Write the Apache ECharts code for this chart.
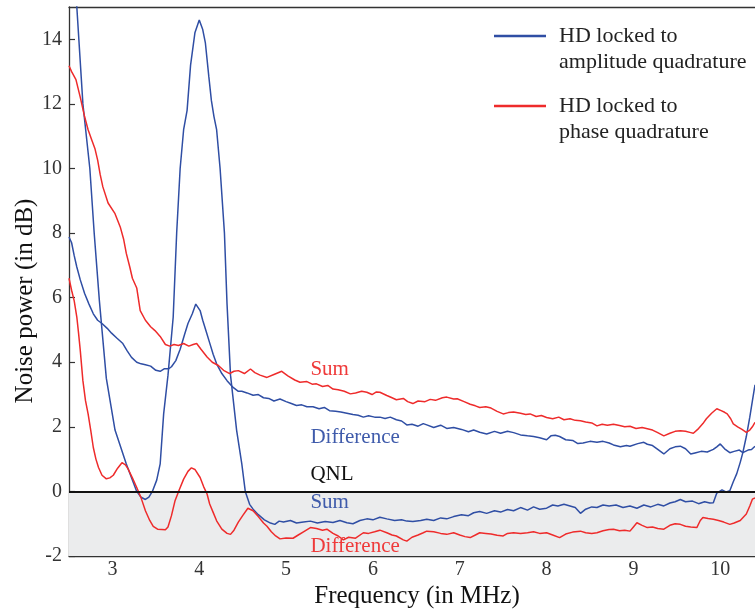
<!DOCTYPE html>
<html>
<head>
<meta charset="utf-8">
<script src="https://cdn.jsdelivr.net/npm/echarts@6/dist/echarts.min.js"></script>
<style>
html,body{margin:0;padding:0;background:#fff;}
#c{width:755px;height:612px;}
</style>
</head>
<body>
<div id="c"></div>
<script>
// ---- Data ----
const xTicks = [3, 4, 5, 6, 7, 8, 9, 10];
const yTicks = [-2, 0, 2, 4, 6, 8, 10, 12, 14];

// HD locked to amplitude quadrature — Sum (big blue curve)
const ampSumX = [2.50,2.55,2.59,2.66,2.74,2.79,2.85,2.93,3.03,3.16,3.28,3.33,3.38,3.42,3.46,3.51,3.55,3.59,3.64,3.70,3.74,3.78,3.82,3.86,3.90,3.95,4.00,4.04,4.07,4.11,4.14,4.17,4.20,4.24,4.29,4.32,4.36,4.43,4.49,4.53,4.58,4.62,4.68,4.75,4.82,4.87,4.92,4.97,5.05,5.12,5.20,5.28,5.36,5.45,5.54,5.62,5.70,5.77,5.85,5.93,6.00,6.08,6.16,6.25,6.33,6.39,6.46,6.55,6.62,6.70,6.78,6.85,6.93,7.02,7.10,7.16,7.23,7.31,7.40,7.47,7.55,7.62,7.70,7.78,7.85,7.92,8.00,8.07,8.13,8.20,8.27,8.33,8.39,8.45,8.52,8.58,8.65,8.72,8.80,8.88,8.96,9.04,9.12,9.20,9.28,9.35,9.42,9.48,9.54,9.60,9.68,9.75,9.82,9.88,9.92,9.96,10.02,10.07,10.11,10.15,10.19,10.23,10.26,10.30,10.34,10.37,10.40];
const ampSumY = [18.8,16.8,15.0,12.0,10.0,8.0,5.9,3.5,1.9,0.85,0.0,-0.18,-0.25,-0.18,0.0,0.35,0.85,2.4,3.6,5.4,8.0,10.0,11.2,11.8,13.2,14.2,14.6,14.3,13.9,12.85,12.1,11.6,11.2,10.0,8.0,5.8,3.6,1.9,0.85,0.0,-0.4,-0.55,-0.72,-0.88,-0.98,-1.02,-0.92,-0.95,-0.9,-0.98,-0.95,-0.92,-0.98,-0.93,-0.96,-0.9,-0.97,-1.0,-0.9,-0.85,-0.88,-0.8,-0.85,-0.9,-0.88,-0.92,-0.93,-0.9,-0.86,-0.9,-0.82,-0.85,-0.78,-0.72,-0.75,-0.66,-0.62,-0.68,-0.6,-0.64,-0.56,-0.6,-0.5,-0.58,-0.48,-0.55,-0.52,-0.42,-0.45,-0.4,-0.45,-0.5,-0.68,-0.55,-0.48,-0.5,-0.42,-0.45,-0.42,-0.5,-0.45,-0.52,-0.42,-0.48,-0.4,-0.45,-0.36,-0.32,-0.25,-0.32,-0.3,-0.38,-0.32,-0.36,-0.35,-0.05,0.05,-0.02,0.02,0.3,0.55,0.9,1.2,1.7,2.3,2.8,3.3];

// HD locked to amplitude quadrature — Difference (blue)
const ampDiffX = [2.50,2.53,2.56,2.59,2.63,2.68,2.73,2.78,2.83,2.88,2.94,2.99,3.05,3.12,3.17,3.22,3.28,3.33,3.38,3.44,3.50,3.55,3.60,3.65,3.68,3.73,3.78,3.83,3.87,3.92,3.96,3.98,4.01,4.04,4.08,4.12,4.16,4.20,4.26,4.32,4.39,4.45,4.49,4.55,4.62,4.68,4.74,4.80,4.86,4.93,5.00,5.06,5.12,5.18,5.24,5.31,5.38,5.44,5.50,5.57,5.63,5.70,5.77,5.83,5.89,5.95,6.02,6.08,6.14,6.20,6.27,6.33,6.39,6.45,6.52,6.58,6.62,6.70,6.78,6.85,6.93,7.02,7.10,7.16,7.23,7.31,7.40,7.47,7.55,7.62,7.70,7.78,7.85,7.92,8.00,8.05,8.10,8.15,8.22,8.30,8.36,8.42,8.50,8.58,8.65,8.72,8.77,8.85,8.92,8.96,9.05,9.12,9.16,9.22,9.28,9.35,9.42,9.48,9.54,9.60,9.66,9.72,9.78,9.85,9.92,9.96,10.00,10.05,10.11,10.16,10.22,10.26,10.32,10.36,10.40];
const ampDiffY = [7.88,7.7,7.3,6.95,6.55,6.13,5.8,5.5,5.3,5.2,5.05,4.9,4.75,4.58,4.35,4.15,4.0,3.95,3.92,3.88,3.75,3.72,3.8,3.8,3.86,4.05,4.4,4.85,5.2,5.5,5.8,5.82,5.6,5.3,4.95,4.6,4.25,3.95,3.65,3.43,3.22,3.1,3.1,3.05,2.98,3.0,2.9,2.88,2.8,2.86,2.78,2.72,2.66,2.68,2.62,2.62,2.56,2.6,2.5,2.48,2.46,2.42,2.38,2.36,2.3,2.34,2.3,2.3,2.26,2.3,2.22,2.18,2.06,2.08,2.02,2.1,2.06,1.98,2.05,1.95,1.98,1.92,1.85,1.9,1.83,1.78,1.86,1.8,1.86,1.82,1.75,1.72,1.7,1.66,1.6,1.72,1.74,1.7,1.6,1.58,1.48,1.5,1.55,1.52,1.55,1.5,1.44,1.38,1.42,1.4,1.48,1.52,1.46,1.42,1.3,1.16,1.32,1.38,1.4,1.32,1.16,1.2,1.24,1.22,1.3,1.38,1.47,1.32,1.2,1.24,1.28,1.2,1.28,1.3,1.4];

// HD locked to phase quadrature — Sum (red)
const phSumX = [2.50,2.53,2.58,2.63,2.68,2.72,2.76,2.80,2.83,2.86,2.89,2.95,3.03,3.09,3.13,3.16,3.20,3.23,3.28,3.32,3.38,3.44,3.49,3.55,3.61,3.66,3.71,3.76,3.82,3.88,3.93,3.97,4.02,4.09,4.15,4.22,4.28,4.35,4.40,4.45,4.52,4.59,4.64,4.70,4.78,4.86,4.95,5.02,5.10,5.16,5.24,5.30,5.35,5.42,5.48,5.54,5.60,5.67,5.74,5.80,5.87,5.93,5.99,6.04,6.08,6.16,6.22,6.27,6.35,6.40,6.46,6.52,6.60,6.66,6.72,6.80,6.85,6.93,6.97,7.05,7.12,7.18,7.23,7.30,7.36,7.43,7.50,7.56,7.62,7.70,7.76,7.81,7.88,7.94,8.00,8.07,8.14,8.20,8.27,8.33,8.39,8.45,8.52,8.58,8.64,8.70,8.77,8.84,8.90,8.96,9.03,9.10,9.16,9.22,9.28,9.35,9.42,9.48,9.54,9.60,9.66,9.69,9.74,9.80,9.84,9.90,9.96,10.01,10.05,10.08,10.12,10.15,10.20,10.25,10.30,10.34,10.37,10.40];
const phSumY = [13.18,13.0,12.75,12.2,11.6,11.2,10.9,10.6,10.26,9.8,9.43,8.93,8.6,8.19,7.8,7.37,6.95,6.6,6.3,5.6,5.3,5.1,4.98,4.8,4.55,4.5,4.55,4.52,4.58,4.5,4.55,4.58,4.4,4.16,4.0,3.9,3.75,3.65,3.72,3.74,3.65,3.79,3.68,3.6,3.53,3.62,3.72,3.58,3.45,3.38,3.4,3.32,3.33,3.25,3.28,3.17,3.15,3.1,3.02,3.05,3.1,3.07,3.0,3.08,3.07,2.97,2.9,2.84,2.88,2.78,2.72,2.8,2.78,2.85,2.82,2.9,2.92,2.86,2.87,2.78,2.7,2.65,2.6,2.62,2.58,2.48,2.4,2.44,2.46,2.42,2.38,2.4,2.32,2.35,2.29,2.25,2.3,2.22,2.25,2.2,2.19,2.15,2.12,2.03,2.08,2.05,2.08,2.04,2.0,2.02,1.95,1.98,1.94,1.9,1.82,1.72,1.8,1.86,1.88,1.86,1.82,1.8,1.92,2.1,2.25,2.42,2.56,2.5,2.45,2.4,2.25,2.09,2.0,1.92,1.83,1.9,2.0,2.14];

// HD locked to phase quadrature — Difference (red)
const phDiffX = [2.50,2.53,2.56,2.59,2.61,2.63,2.66,2.69,2.72,2.75,2.78,2.81,2.84,2.88,2.93,2.97,3.01,3.06,3.11,3.15,3.18,3.23,3.28,3.33,3.38,3.43,3.47,3.52,3.57,3.61,3.64,3.68,3.72,3.77,3.82,3.87,3.91,3.95,4.01,4.05,4.09,4.12,4.16,4.20,4.26,4.32,4.36,4.40,4.45,4.50,4.56,4.62,4.68,4.74,4.78,4.83,4.88,4.93,5.00,5.08,5.14,5.20,5.28,5.35,5.42,5.47,5.54,5.60,5.66,5.72,5.80,5.89,5.95,6.02,6.08,6.16,6.22,6.27,6.35,6.39,6.45,6.52,6.58,6.62,6.70,6.78,6.85,6.93,7.00,7.06,7.12,7.18,7.23,7.30,7.36,7.43,7.50,7.55,7.62,7.70,7.78,7.85,7.92,8.00,8.07,8.15,8.22,8.30,8.39,8.45,8.52,8.58,8.65,8.72,8.77,8.84,8.90,8.96,9.00,9.04,9.10,9.16,9.22,9.28,9.35,9.42,9.48,9.54,9.60,9.66,9.73,9.77,9.80,9.86,9.92,9.98,10.04,10.11,10.16,10.23,10.30,10.34,10.37,10.40];
const phDiffY = [6.6,6.23,5.9,5.4,4.9,4.36,3.43,2.81,2.4,1.9,1.36,1.0,0.74,0.5,0.39,0.42,0.5,0.72,0.89,0.82,0.7,0.42,0.12,-0.2,-0.6,-0.9,-1.08,-1.17,-1.18,-1.19,-1.1,-0.75,-0.3,0.05,0.38,0.62,0.73,0.68,0.43,0.15,-0.08,-0.39,-0.65,-0.91,-1.17,-1.3,-1.33,-1.2,-0.95,-0.75,-0.52,-0.6,-0.78,-0.98,-1.08,-1.25,-1.38,-1.47,-1.44,-1.45,-1.35,-1.25,-1.12,-1.15,-1.2,-1.17,-1.3,-1.38,-1.5,-1.42,-1.45,-1.28,-1.3,-1.25,-1.2,-1.28,-1.35,-1.38,-1.5,-1.54,-1.42,-1.35,-1.28,-1.23,-1.25,-1.3,-1.33,-1.28,-1.35,-1.4,-1.43,-1.35,-1.28,-1.3,-1.32,-1.36,-1.38,-1.3,-1.28,-1.3,-1.28,-1.25,-1.3,-1.28,-1.35,-1.43,-1.32,-1.26,-1.23,-1.28,-1.3,-1.28,-1.22,-1.18,-1.17,-1.22,-1.2,-1.23,-1.1,-0.97,-1.05,-1.12,-1.1,-1.15,-1.17,-1.05,-1.0,-1.02,-1.08,-1.1,-1.12,-0.9,-0.81,-0.84,-0.86,-0.9,-0.95,-1.02,-0.98,-0.9,-0.7,-0.45,-0.24,-0.2];

// In-plot annotations (data coordinates of the text's left / vertical middle)
const annText = ['Sum', 'Difference', 'QNL', 'Sum', 'Difference'];
const annX = [5.28, 5.28, 5.28, 5.28, 5.28];
const annY = [3.77, 1.66, 0.53, -0.33, -1.72];
const annKind = ['red', 'blue', 'black', 'blue', 'red'];

const legendLabels = [['HD locked to', 'amplitude quadrature'], ['HD locked to', 'phase quadrature']];
const xTitle = 'Frequency (in MHz)';
const yTitle = 'Noise power (in dB)';

// ---- Styles ----
const BLUE = '#2f4ea4';
const RED = '#ee2b2b';
const TXT = { blue: '#3f5bab', red: '#ef3a3a', black: '#111' };
const SERIF = '"Liberation Serif", "DejaVu Serif", serif';
const AXIS = '#333';

const pairs = (xs, ys) => xs.map((v, i) => [v, ys[i]]);

const chart = echarts.init(document.getElementById('c'), null, { renderer: 'canvas' });

function lineSeries(name, xs, ys, color) {
  return {
    type: 'line', name: name, data: pairs(xs, ys),
    showSymbol: false, symbol: 'none', clip: true, z: 3,
    lineStyle: { color: color, width: 1.5 }, itemStyle: { color: color },
    animation: false
  };
}

chart.setOption({
  animation: false,
  grid: { left: 69, right: 0, top: 7, bottom: 56, containLabel: false, outerBoundsMode: 'none' },
  xAxis: [{
    type: 'value', min: 2.5, max: 10.4, position: 'bottom',
    axisLine: { show: true, onZero: false, lineStyle: { color: AXIS, width: 1.3 } },
    axisTick: { show: true, inside: true, length: 7, customValues: xTicks, lineStyle: { color: AXIS, width: 1.2 } },
    axisLabel: { customValues: xTicks, margin: 4, fontFamily: SERIF, fontSize: 20, color: '#333' },
    splitLine: { show: false }
  }, {
    type: 'value', min: 2.5, max: 10.4, position: 'top',
    axisLine: { show: true, onZero: false, lineStyle: { color: AXIS, width: 1.3 } },
    axisTick: { show: false }, axisLabel: { show: false }, splitLine: { show: false }
  }],
  yAxis: {
    type: 'value', min: -2, max: 15,
    axisLine: { show: true, onZero: false, lineStyle: { color: AXIS, width: 1.3 } },
    axisTick: { show: true, inside: true, length: 6, customValues: yTicks, lineStyle: { color: AXIS, width: 1.2 } },
    axisLabel: { customValues: yTicks, margin: 7, fontFamily: SERIF, fontSize: 20, color: '#333' },
    splitLine: { show: false }
  },
  series: [
    {
      type: 'line', data: [], z: 1, silent: true,
      markArea: { silent: true, itemStyle: { color: '#ebeced' }, data: [[{ yAxis: -2 }, { yAxis: 0 }]] },
      markLine: { silent: true, symbol: 'none', label: { show: false },
        lineStyle: { color: '#111', width: 2, type: 'solid' }, data: [{ yAxis: 0 }] }
    },
    lineSeries('Sum (amplitude quadrature)', ampSumX, ampSumY, BLUE),
    lineSeries('Difference (amplitude quadrature)', ampDiffX, ampDiffY, BLUE),
    lineSeries('Sum (phase quadrature)', phSumX, phSumY, RED),
    lineSeries('Difference (phase quadrature)', phDiffX, phDiffY, RED)
  ]
});

// Annotations, axis titles & legend as text/graphics
const g = [];
annText.forEach((t, i) => {
  const p = chart.convertToPixel({ gridIndex: 0 }, [annX[i], annY[i]]);
  g.push({ type: 'text', x: p[0], y: p[1], z: 10,
    style: { text: t, fill: TXT[annKind[i]], font: '21px ' + SERIF, textAlign: 'left', textVerticalAlign: 'middle', verticalAlign: 'middle' } });
});
g.push({ type: 'text', x: 417, y: 596, z: 10,
  style: { text: xTitle, fill: '#111', font: '25px ' + SERIF, textAlign: 'center', textVerticalAlign: 'middle', verticalAlign: 'middle' } });
g.push({ type: 'text', x: 25, y: 301, rotation: Math.PI / 2, z: 10,
  style: { text: yTitle, fill: '#111', font: '25px ' + SERIF, textAlign: 'center', textVerticalAlign: 'middle', verticalAlign: 'middle' } });
const legendColors = [BLUE, RED];
const legendY = [36, 106];
legendLabels.forEach((lines, k) => {
  g.push({ type: 'line', z: 10, shape: { x1: 494, y1: legendY[k], x2: 546, y2: legendY[k] },
    style: { stroke: legendColors[k], lineWidth: 2.5 } });
  lines.forEach((txt, j) => {
    g.push({ type: 'text', z: 10, x: 559, y: legendY[k] + j * 26.5,
      style: { text: txt, fill: '#222', font: '22px ' + SERIF, textAlign: 'left', textVerticalAlign: 'middle', verticalAlign: 'middle' } });
  });
});
chart.setOption({ graphic: g });
</script>
</body>
</html>
